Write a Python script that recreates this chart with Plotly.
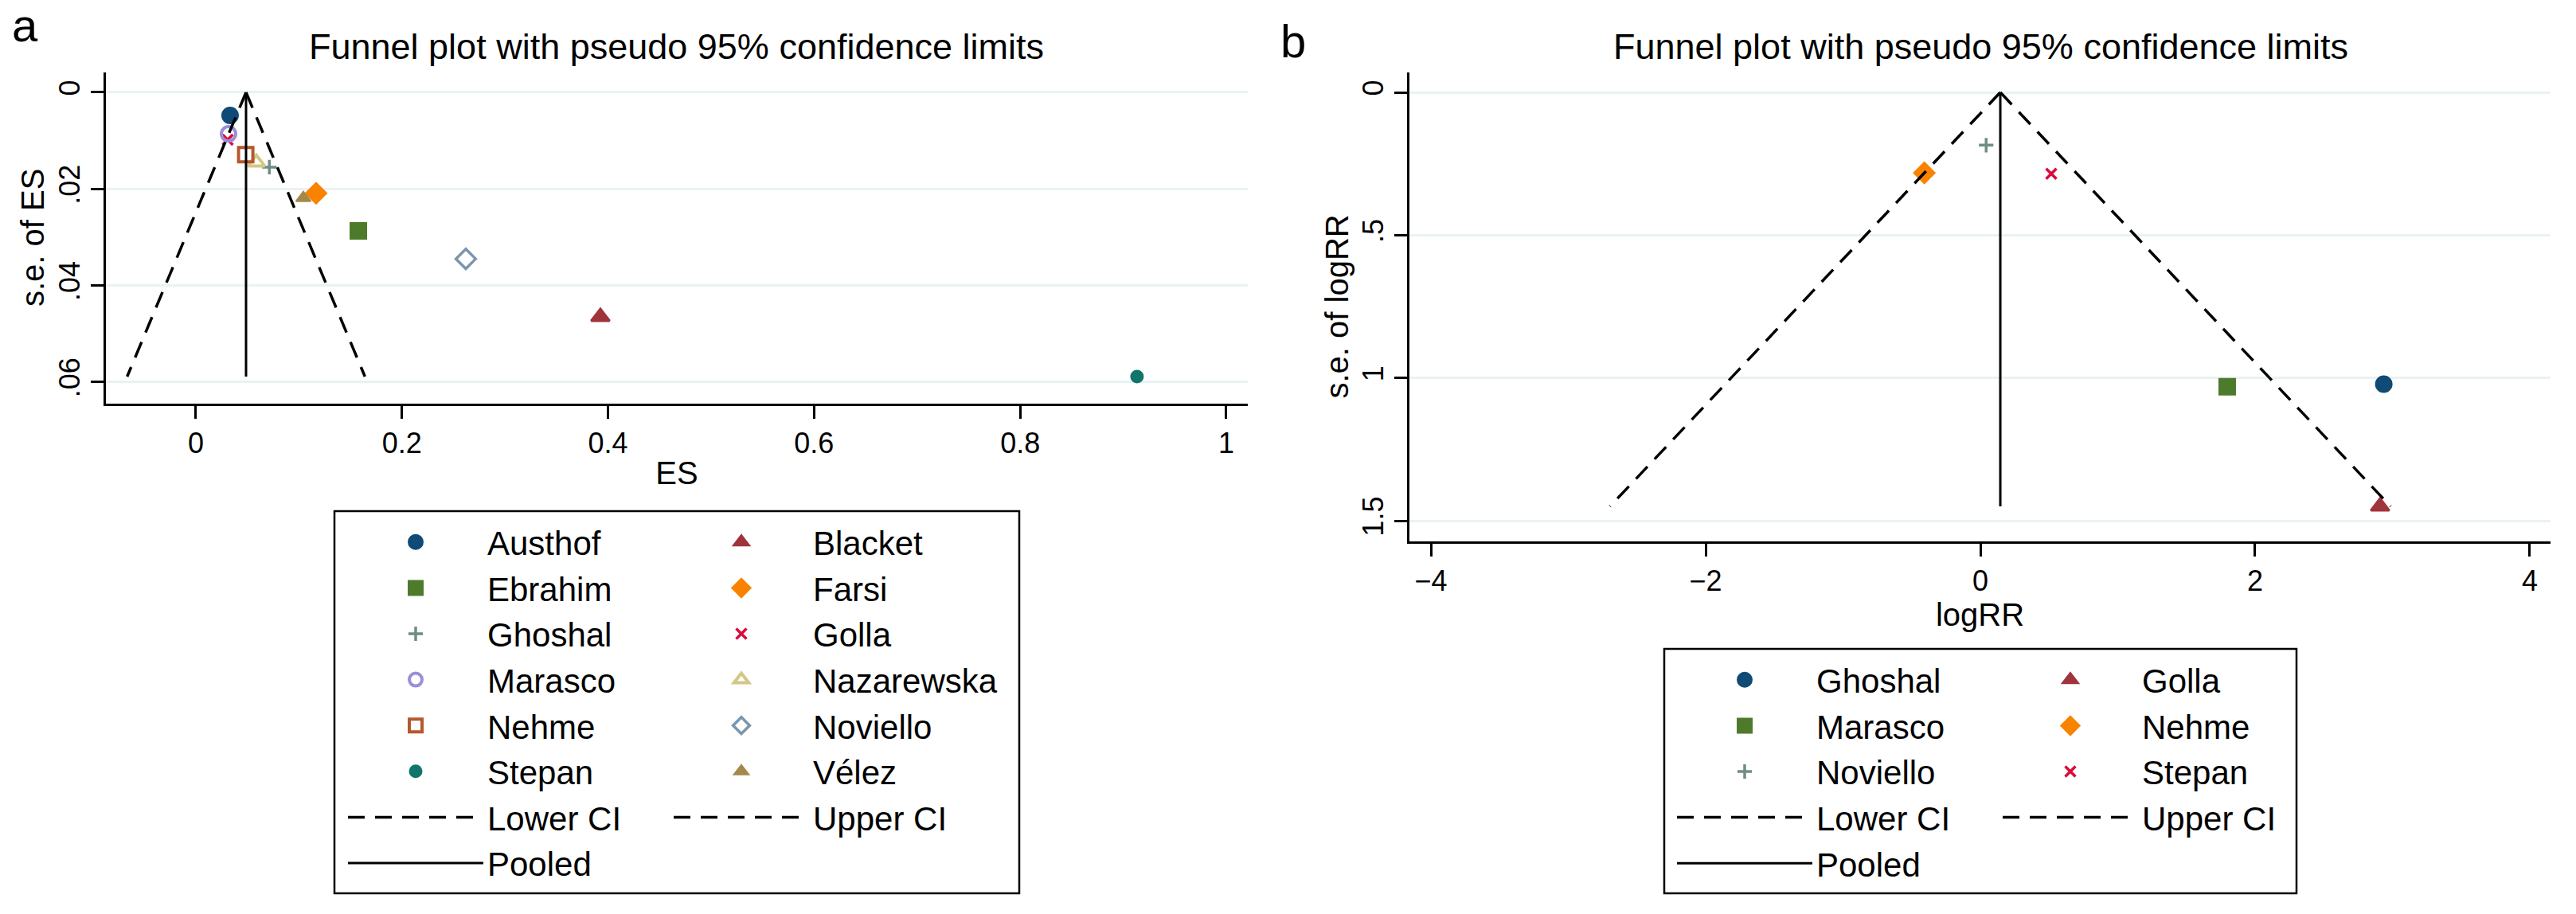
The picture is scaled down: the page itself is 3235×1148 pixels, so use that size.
import plotly.graph_objects as go

# ---------------- Panel a : ES vs s.e. of ES ----------------
studies_a = ["Austhof", "Blacket", "Ebrahim", "Farsi", "Ghoshal", "Golla",
             "Marasco", "Nazarewska", "Nehme", "Noviello", "Stepan", "Vélez"]
es_a = [0.0332, 0.3926, 0.1577, 0.1167, 0.0713, 0.0309,
        0.0317, 0.0587, 0.0484, 0.2620, 0.9134, 0.1043]
se_a = [0.0048, 0.0465, 0.0287, 0.0209, 0.0155, 0.0098,
        0.0086, 0.0145, 0.0129, 0.0345, 0.0589, 0.0219]
ci_se_a = [0.0, 0.0589]
lower_ci_a = [0.0487, -0.0667]
upper_ci_a = [0.0487, 0.1641]
pooled_a = [0.0487, 0.0487]
x_ticks_a = [0, 0.2, 0.4, 0.6, 0.8, 1]
y_ticks_a = [0, 0.02, 0.04, 0.06]
y_ticktext_a = ["0", ".02", ".04", ".06"]

# ---------------- Panel b : logRR vs s.e. of logRR ----------------
studies_b = ["Ghoshal", "Golla", "Marasco", "Nehme", "Noviello", "Stepan"]
logrr_b = [2.937, 2.910, 1.797, -0.408, 0.042, 0.516]
se_b = [1.022, 1.450, 1.031, 0.282, 0.185, 0.285]
ci_se_b = [0.0, 1.45]
lower_ci_b = [0.145, -2.697]
upper_ci_b = [0.145, 2.987]
pooled_b = [0.145, 0.145]
x_ticks_b = [-4, -2, 0, 2, 4]
y_ticks_b = [0, 0.5, 1, 1.5]
y_ticktext_b = ["0", ".5", "1", "1.5"]

title_text = "Funnel plot with pseudo 95% confidence limits"

# ---------------- styling ----------------
W, H = 3235, 1148
FONT = "Liberation Sans, Arial, sans-serif"


def fx(px):
    return px / W


def fy(py):
    return 1 - py / H


NAVY, MAROON, GREEN, ORANGE = "#104A76", "#A0343C", "#4E7A2C", "#F98300"
TEAL, CRAN, LAV, KHAKI = "#6E8E84", "#DC0A3C", "#9A8FD8", "#D3C786"
SIENNA, EMID, EMER, BROWN = "#B5582D", "#7B95AC", "#11756A", "#A38A4A"

# (symbol, colour, size, outline width) in Stata's marker order
style_seq = [
    ("circle", NAVY, 18, 4),
    ("triangle-up", MAROON, 20, 3),
    ("square", GREEN, 18, 4),
    ("diamond", ORANGE, 18, 4),
    ("cross-thin", TEAL, 13, 3.5),
    ("x-thin", CRAN, 13, 3.5),
    ("circle-open", LAV, 18, 4),
    ("triangle-up-open", KHAKI, 18, 4),
    ("square-open", SIENNA, 18, 4),
    ("diamond-open", EMID, 19, 3.5),
    ("circle", EMER, 13, 4),
    ("triangle-up", BROWN, 16, 2),
]

fig = go.Figure()


def add_panel(names, xs, ys, ci_se, low, up, pooled, xa, ya, leg1, leg2):
    for i, (n, xv, yv) in enumerate(zip(names, xs, ys)):
        sym, col, size, lw = style_seq[i]
        fig.add_trace(go.Scatter(
            x=[xv], y=[yv], mode="markers", name=n,
            xaxis=xa, yaxis=ya, legend=leg1 if i % 2 == 0 else leg2,
            marker=dict(symbol=sym, color=col, size=size,
                        line=dict(color=col, width=lw)),
            hoverinfo="skip"))
    dash = "21px,13px"
    fig.add_trace(go.Scatter(x=low, y=ci_se, mode="lines", name="Lower CI",
                             xaxis=xa, yaxis=ya, legend=leg1,
                             line=dict(color="black", width=3.5, dash=dash),
                             hoverinfo="skip"))
    fig.add_trace(go.Scatter(x=up, y=ci_se, mode="lines", name="Upper CI",
                             xaxis=xa, yaxis=ya, legend=leg2,
                             line=dict(color="black", width=3.5, dash=dash),
                             hoverinfo="skip"))
    fig.add_trace(go.Scatter(x=pooled, y=ci_se, mode="lines", name="Pooled",
                             xaxis=xa, yaxis=ya, legend=leg1,
                             line=dict(color="black", width=3),
                             hoverinfo="skip"))


add_panel(studies_a, es_a, se_a, ci_se_a, lower_ci_a, upper_ci_a, pooled_a,
          "x", "y", "legend", "legend2")
add_panel(studies_b, logrr_b, se_b, ci_se_b, lower_ci_b, upper_ci_b, pooled_b,
          "x2", "y2", "legend3", "legend4")

axis_common = dict(
    showline=True, linecolor="black", linewidth=2.5,
    ticks="outside", ticklen=16, tickwidth=2.5, tickcolor="black",
    zeroline=False, tickfont=dict(size=36, color="black", family=FONT),
    title_font=dict(size=40, color="black", family=FONT),
)

fig.update_layout(
    width=W, height=H,
    margin=dict(l=0, r=0, t=0, b=0, pad=0),
    paper_bgcolor="white", plot_bgcolor="white",
    font=dict(family=FONT, color="black"),
    showlegend=True,
    xaxis=dict(domain=[fx(133), fx(1567)], anchor="y",
               range=[-0.0873, 1.0209], tickvals=x_ticks_a,
               showgrid=False, title=dict(text="ES", standoff=5), **axis_common),
    yaxis=dict(domain=[fy(507), fy(91)], anchor="x",
               range=[0.0645, -0.00412], tickvals=y_ticks_a,
               ticktext=y_ticktext_a, tickangle=-90,
               showgrid=True, gridcolor="#EAF2F3", gridwidth=3, **axis_common),
    xaxis2=dict(domain=[fx(1770), fx(3203)], anchor="y2",
                range=[-4.157, 4.151], tickvals=x_ticks_b,
                showgrid=False, title=dict(text="logRR", standoff=3), **axis_common),
    yaxis2=dict(domain=[fy(680), fy(91)], anchor="x2",
                range=[1.5725, -0.0697], tickvals=y_ticks_b,
                ticktext=y_ticktext_b, tickangle=-90,
                showgrid=True, gridcolor="#EAF2F3", gridwidth=3, **axis_common),
)

leg_common = dict(xanchor="left", yanchor="top", orientation="v",
                  bgcolor="rgba(0,0,0,0)", borderwidth=0, itemwidth=170,
                  font=dict(size=42, color="black", family=FONT),
                  itemclick=False, itemdoubleclick=False, tracegroupgap=0)
fig.update_layout(
    legend=dict(x=fx(432), y=fy(647), **leg_common),
    legend2=dict(x=fx(841), y=fy(647), **leg_common),
    legend3=dict(x=fx(2101), y=fy(820), **leg_common),
    legend4=dict(x=fx(2510), y=fy(820), **leg_common),
)

# legend frames
for x0, x1, y0, y1 in [(420, 1280, 642, 1122), (2090, 2884, 815, 1122)]:
    fig.add_shape(type="rect", xref="paper", yref="paper",
                  x0=fx(x0), x1=fx(x1), y0=fy(y1), y1=fy(y0),
                  line=dict(color="black", width=2.5), fillcolor="rgba(0,0,0,0)")

# titles, y-axis titles and panel letters
ann = []
for cx in (850, 2487):
    ann.append(dict(text=title_text, x=fx(cx), y=fy(59), xref="paper", yref="paper",
                    xanchor="center", yanchor="middle", showarrow=False,
                    font=dict(size=45, color="black", family=FONT)))
for txt, cx, cy in [("s.e. of ES", 41, 299), ("s.e. of logRR", 1679, 385.5)]:
    ann.append(dict(text=txt, x=fx(cx), y=fy(cy), xref="paper", yref="paper",
                    xanchor="center", yanchor="middle", textangle=-90,
                    showarrow=False,
                    font=dict(size=40, color="black", family=FONT)))
ann.append(dict(text="a", x=fx(13), y=fy(32), xref="paper", yref="paper",
                xanchor="left", yanchor="middle", showarrow=False,
                font=dict(size=58, color="black", family=FONT)))
ann.append(dict(text="b", x=fx(1606), y=fy(51), xref="paper", yref="paper",
                xanchor="left", yanchor="middle", showarrow=False,
                font=dict(size=58, color="black", family=FONT)))
fig.update_layout(annotations=ann)

fig.write_html("out.html", config={"displayModeBar": False},
               post_script="document.body.style.margin='0';document.body.style.overflow='hidden';")
